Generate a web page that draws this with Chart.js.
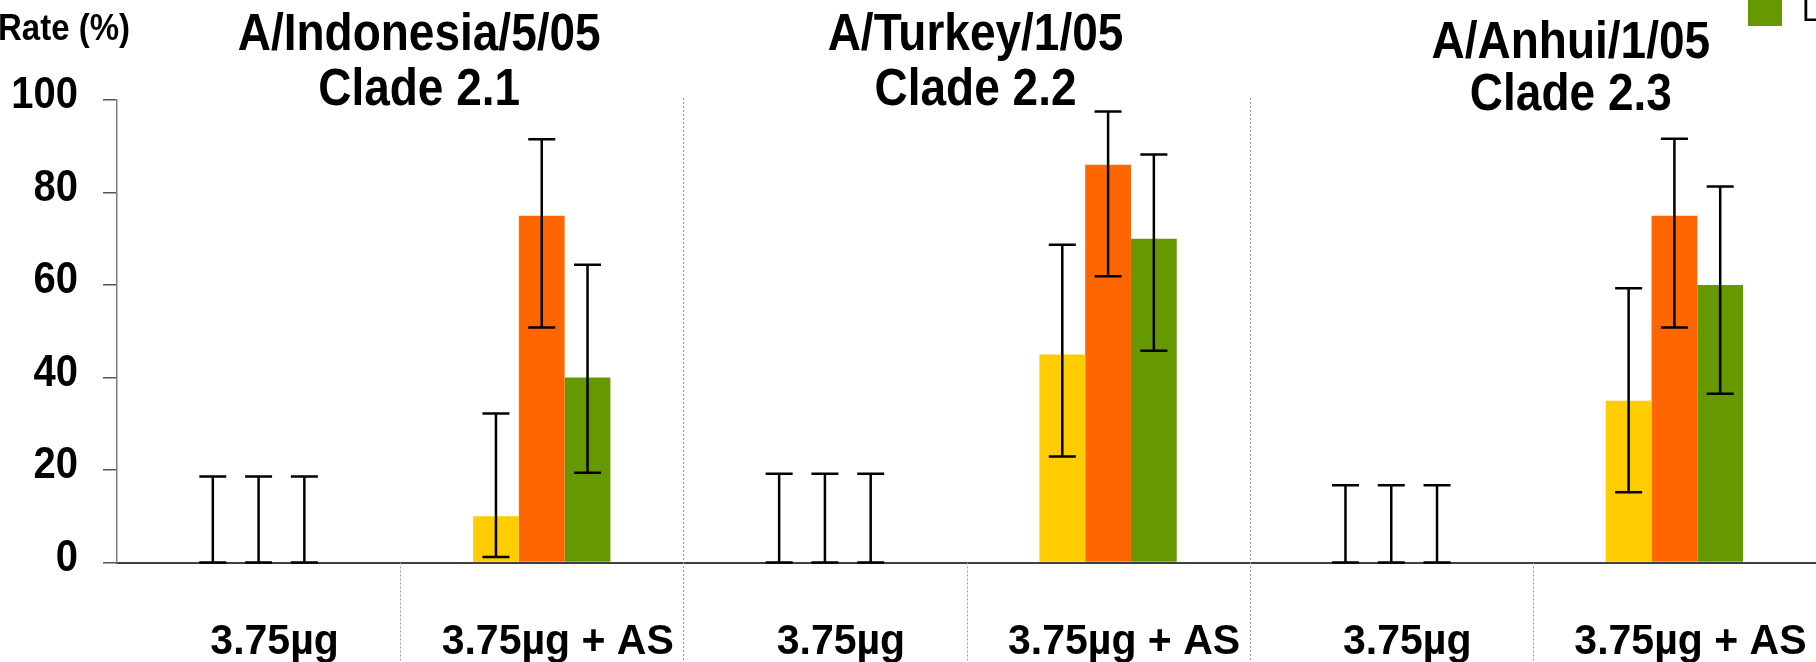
<!DOCTYPE html>
<html>
<head>
<meta charset="utf-8">
<script src="https://cdn.jsdelivr.net/npm/chart.js@4.4.1/dist/chart.umd.min.js"></script>
<style>
	html, body { margin: 0; padding: 0; background: #fff; overflow: hidden; }
	#wrap { position: relative; width: 1816px; height: 662px; }
</style>
</head>
<body>
<div id="wrap"><canvas id="chart" width="1816" height="662"></canvas></div>
<script>
// categories and values
const categories = ["3.75µg", "3.75µg + AS", "3.75µg", "3.75µg + AS", "3.75µg", "3.75µg + AS"];
const yellowValues = [0, 10, 0, 45, 0, 35];
const orangeValues = [0, 75, 0, 86, 0, 75];
const greenValues = [0, 40, 0, 70, 0, 60];

// error bar ends (low / high)
const yellowLow = [0, 1.2, 0, 22.9, 0, 15.2];
const yellowHigh = [18.6, 32.2, 19.2, 68.7, 16.7, 59.3];
const orangeLow = [0, 50.8, 0, 61.9, 0, 50.8];
const orangeHigh = [18.6, 91.5, 19.2, 97.5, 16.7, 91.6];
const greenLow = [0, 19.4, 0, 45.8, 0, 36.5];
const greenHigh = [18.6, 64.4, 19.2, 88.2, 16.7, 81.3];

const yTicks = [0, 20, 40, 60, 80, 100];
const strainTitles = [
	["A/Indonesia/5/05", "Clade 2.1"],
	["A/Turkey/1/05", "Clade 2.2"],
	["A/Anhui/1/05", "Clade 2.3"]
];
const axisTitle = "Rate (%)";
const legendLabel = "L";

const YELLOW = "#FFCC00";
const ORANGE = "#FF6600";
const GREEN = "#669900";
const FONT = "'Liberation Sans', Arial, sans-serif";

// where the titles sit relative to the middle of each strain group
const titleShift = [19, 9, 38];
const titleBaselines = [[50, 105], [50, 105], [58, 110]];

// the original text is drawn a little taller than it is wide
function tallText(ctx, text, x, y, font, align, sy) {
	ctx.save();
	ctx.translate(x, y);
	ctx.scale(1, sy);
	ctx.font = font;
	ctx.textAlign = align;
	ctx.textBaseline = "alphabetic";
	ctx.fillText(text, 0, 0);
	ctx.restore();
}

const errorBars = {
	id: "errorBars",
	afterDatasetsDraw(chart) {
		const ctx = chart.ctx;
		const y = chart.scales.y;
		ctx.save();
		ctx.strokeStyle = "#000";
		ctx.lineWidth = 2.5;
		chart.data.datasets.forEach((ds, di) => {
			const meta = chart.getDatasetMeta(di);
			meta.data.forEach((bar, i) => {
				const lo = y.getPixelForValue(ds.errLow[i]);
				const hi = y.getPixelForValue(ds.errHigh[i]);
				ctx.beginPath();
				ctx.moveTo(bar.x, lo);
				ctx.lineTo(bar.x, hi);
				ctx.moveTo(bar.x - 13.5, hi);
				ctx.lineTo(bar.x + 13.5, hi);
				ctx.moveTo(bar.x - 13.5, lo);
				ctx.lineTo(bar.x + 13.5, lo);
				ctx.stroke();
			});
		});
		ctx.restore();
	}
};

const decorations = {
	id: "decorations",
	beforeDatasetsDraw(chart) {
		const ctx = chart.ctx;
		const x = chart.scales.x;
		const area = chart.chartArea;
		ctx.save();
		ctx.strokeStyle = "#9a9a9a";
		ctx.lineWidth = 1;
		ctx.setLineDash([2, 2]);
		for (let i = 0; i < categories.length - 1; i++) {
			const px = Math.round((x.getPixelForValue(i) + x.getPixelForValue(i + 1)) / 2) + 0.5;
			const top = (i % 2 === 1) ? 98 : area.bottom;
			ctx.beginPath();
			ctx.moveTo(px, top);
			ctx.lineTo(px, chart.height);
			ctx.stroke();
		}
		ctx.restore();
	},
	afterDraw(chart) {
		const ctx = chart.ctx;
		const x = chart.scales.x;
		const y = chart.scales.y;
		ctx.save();
		ctx.fillStyle = "#000";

		// y tick labels
		yTicks.forEach(v => {
			tallText(ctx, String(v), 78, y.getPixelForValue(v) + 8, "bold 40px " + FONT, "right", 1.1);
		});

		// category labels
		categories.forEach((c, i) => {
			tallText(ctx, c, x.getPixelForValue(i) + 16, 654, "bold 41px " + FONT, "center", 1.05);
		});

		strainTitles.forEach((lines, g) => {
			const cx = (x.getPixelForValue(2 * g) + x.getPixelForValue(2 * g + 1)) / 2 + titleShift[g];
			lines.forEach((line, k) => tallText(ctx, line, cx, titleBaselines[g][k], "bold 46px " + FONT, "center", 1.12));
		});

		tallText(ctx, axisTitle, 130, 40, "bold 33px " + FONT, "right", 1.12);

		// legend entry (the rest is cut off by the frame)
		ctx.fillStyle = GREEN;
		ctx.fillRect(1748, -8, 34, 34);
		ctx.fillStyle = "#000";
		tallText(ctx, legendLabel, 1802, 21, "30px " + FONT, "left", 1.1);
		ctx.restore();
	}
};

new Chart(document.getElementById("chart"), {
	type: "bar",
	data: {
		labels: categories,
		datasets: [
			{label: "", data: yellowValues, backgroundColor: YELLOW, errLow: yellowLow, errHigh: yellowHigh},
			{label: "", data: orangeValues, backgroundColor: ORANGE, errLow: orangeLow, errHigh: orangeHigh},
			{label: legendLabel, data: greenValues, backgroundColor: GREEN, errLow: greenLow, errHigh: greenHigh}
		]
	},
	options: {
		responsive: false,
		animation: false,
		devicePixelRatio: 1,
		layout: {padding: {top: 100, right: 0, left: 0, bottom: 0}},
		datasets: {bar: {categoryPercentage: 0.485, barPercentage: 1.0, borderWidth: 0}},
		plugins: {legend: {display: false}, tooltip: {enabled: false}, title: {display: false}},
		scales: {
			x: {
				grid: {display: false, drawTicks: false},
				border: {display: true, color: "#404040", width: 2},
				ticks: {display: false, autoSkip: false, maxRotation: 0},
				afterFit(scale) {
					scale.height = 99.5;
					scale.paddingLeft = 0;
					scale.paddingRight = 0;
				}
			},
			y: {
				min: 0,
				max: 100,
				afterBuildTicks(scale) {
					scale.ticks = yTicks.map(v => ({value: v}));
				},
				grid: {display: true, drawOnChartArea: false, drawTicks: true, tickLength: 14, color: "#555", lineWidth: 1.5},
				border: {display: true, color: "#808080", width: 1.5},
				ticks: {display: false},
				afterFit(scale) {
					scale.width = 117;
					scale.paddingTop = 0;
					scale.paddingBottom = 0;
				}
			}
		}
	},
	plugins: [decorations, errorBars]
});
</script>
</body>
</html>
